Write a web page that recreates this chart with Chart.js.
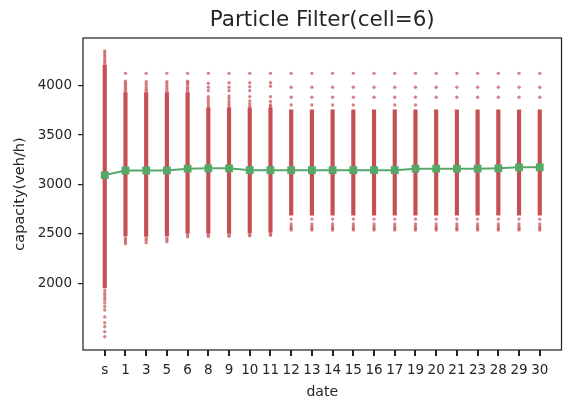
<!DOCTYPE html>
<html>
<head>
<meta charset="utf-8">
<script src="https://cdn.jsdelivr.net/npm/chart.js@4.4.1/dist/chart.umd.min.js"></script>
<style>
  html, body { margin: 0; padding: 0; background: #fff; }
  #wrap { width: 567px; height: 405px; }
</style>
</head>
<body>
<div id="wrap"><canvas id="pfChart" width="567" height="405"></canvas></div>
<script>
// dates (x categories)
const cats = ['s','1','3','5','6','8','9','10','11','12','13','14','15','16','17','19','20','21','23','28','29','30'];
// mean capacity (green line)
const meanCap = [3096,3142,3142,3142,3160,3164,3164,3145,3145,3145,3145,3145,3145,3145,3145,3160,3160,3160,3160,3164,3174,3174];
// dense part of each particle cloud
const denseLow  = [1955,2480,2475,2480,2505,2505,2505,2510,2515,2690,2690,2690,2690,2690,2690,2690,2690,2690,2690,2690,2690,2690];
const denseHigh = [4208,3930,3930,3930,3930,3775,3775,3775,3775,3755,3755,3755,3755,3755,3755,3755,3755,3755,3755,3755,3755,3755];
// loose particles above the dense part
const sparseHigh = [
    [4225,4245,4265,4290,4310,4330,4351],
    [3945,3965,3985,4005,4025,4045,4125],
    [3945,3965,3990,4015,4040,4125],
    [3945,3970,3995,4020,4040,4125],
    [3945,3965,3985,4010,4030,4045,4125],
    [3790,3815,3840,3865,3890,3950,3985,4025,4125],
    [3790,3815,3840,3870,3895,3950,3985,4030,4125],
    [3790,3815,3845,3890,3950,3990,4030,4125],
    [3790,3805,3840,3890,3995,4030,4125],
    [3805,3883,3984,4125],
    [3805,3883,3984,4125],
    [3805,3883,3984,4125],
    [3805,3883,3984,4125],
    [3883,3984,4125],
    [3805,3883,3984,4125],
    [3805,3883,3984,4125],
    [3883,3984,4125],
    [3883,3984,4125],
    [3883,3984,4125],
    [3883,3984,4125],
    [3883,3984,4125],
    [3883,3984,4125]
];
// loose particles below the dense part
const sparseLow = [
    [1932,1905,1882,1856,1832,1801,1765,1730,1660,1601,1561,1510,1460],
    [2460,2440,2420,2400],
    [2455,2435,2410],
    [2460,2440,2420],
    [2490,2470],
    [2490,2475],
    [2490,2475],
    [2495,2480],
    [2500,2485],
    [2650,2600,2575,2555,2540],
    [2650,2600,2575,2555,2540],
    [2650,2600,2575,2555,2540],
    [2650,2600,2575,2555,2540],
    [2650,2600,2575,2555,2540],
    [2650,2600,2575,2555,2540],
    [2650,2600,2575,2555,2540],
    [2650,2600,2575,2555,2540],
    [2650,2600,2575,2555,2540],
    [2650,2600,2575,2555,2540],
    [2650,2600,2575,2555,2540],
    [2650,2600,2575,2555,2540],
    [2650,2600,2575,2555,2540]
];
const yTicks = [2000,2500,3000,3500,4000];
const yMin = 1325, yMax = 4483;

const RED = '#c64f54';
const GREEN = '#55a868';
const INK = '#262626';
const FONT = "'DejaVu Sans', sans-serif";

let cloudData = cats.map(function(c, i) { return {x: i, y: [denseLow[i], denseHigh[i]]}; });
let looseData = [];
cats.forEach(function(c, i) {
    sparseHigh[i].concat(sparseLow[i]).forEach(function(v) { looseData.push({x: i, y: v}); });
});
let meanData = meanCap.map(function(v, i) { return {x: i, y: v}; });

const framePlugin = {
    id: 'frame',
    afterDraw: function(chart) {
        let a = chart.chartArea, ctx = chart.ctx;
        let xs = chart.scales.x;
        ctx.save();
        ctx.strokeStyle = INK;
        ctx.lineWidth = 1.25;
        ctx.strokeRect(a.left, a.top, a.right - a.left, a.bottom - a.top);
        // x tick marks
        ctx.fillStyle = '#222';
        cats.forEach(function(c, i) {
            let px = xs.getPixelForValue(i);
            ctx.fillRect(Math.round(px) - 1, Math.round(a.bottom), 2, 6);
        });
        ctx.fillStyle = INK;
        ctx.font = "21.5px " + FONT;
        ctx.textAlign = 'center';
        ctx.textBaseline = 'middle';
        ctx.fillText('Particle Filter(cell=6)', (a.left + a.right) / 2, 20);
        ctx.restore();
    }
};

let ctx = document.getElementById('pfChart');
let myChart = new Chart(ctx, {
    type: 'scatter',
    data: {
        datasets: [{
            type: 'line',
            label: 'mean',
            data: meanData,
            borderColor: GREEN,
            backgroundColor: GREEN,
            borderWidth: 2,
            pointStyle: 'rect',
            pointRadius: 5.5,
            pointBorderWidth: 0,
            tension: 0,
            order: 0
        }, {
            type: 'scatter',
            label: 'particles',
            data: looseData,
            backgroundColor: 'rgba(198,79,84,0.7)',
            borderWidth: 0,
            pointRadius: 1.7,
            order: 1
        }, {
            type: 'bar',
            label: 'cloud',
            data: cloudData,
            backgroundColor: RED,
            borderWidth: 0,
            barThickness: 3.5,
            order: 2
        }]
    },
    options: {
        responsive: false,
        animation: false,
        indexAxis: 'x',
        layout: { padding: { top: 38, right: 2, left: 0, bottom: 0 } },
        plugins: {
            legend: { display: false },
            tooltip: { enabled: false }
        },
        scales: {
            x: {
                type: 'linear',
                offset: false,
                min: -1.05,
                max: 22.05,
                afterBuildTicks: function(scale) {
                    scale.ticks = cats.map(function(c, i) { return {value: i}; });
                },
                afterFit: function(scale) { scale.height = 55; },
                ticks: {
                    autoSkip: false,
                    maxRotation: 0,
                    color: INK,
                    font: { family: FONT, size: 13.5 },
                    padding: 7,
                    callback: function(v) { return cats[v]; }
                },
                grid: { display: false, offset: false, drawOnChartArea: false, drawTicks: true, tickLength: 5 },
                border: { display: false },
                title: { display: true, text: 'date', color: INK, font: { family: FONT, size: 14 }, padding: { top: 2, bottom: 4 } }
            },
            y: {
                type: 'linear',
                min: yMin,
                max: yMax,
                afterBuildTicks: function(scale) {
                    scale.ticks = yTicks.map(function(v) { return {value: v}; });
                },
                afterFit: function(scale) { scale.width = 83; },
                ticks: {
                    color: INK,
                    font: { family: FONT, size: 13.5 },
                    padding: 6,
                    callback: function(v) { return String(v); }
                },
                grid: { display: true, offset: false, drawOnChartArea: false, drawTicks: true, tickLength: 5, color: INK, lineWidth: 1.25 },
                border: { display: false },
                title: { display: true, text: 'capacity(veh/h)', color: INK, font: { family: FONT, size: 14.5 }, padding: { top: 12, bottom: 2 } }
            }
        }
    },
    plugins: [framePlugin]
});
</script>
</body>
</html>
